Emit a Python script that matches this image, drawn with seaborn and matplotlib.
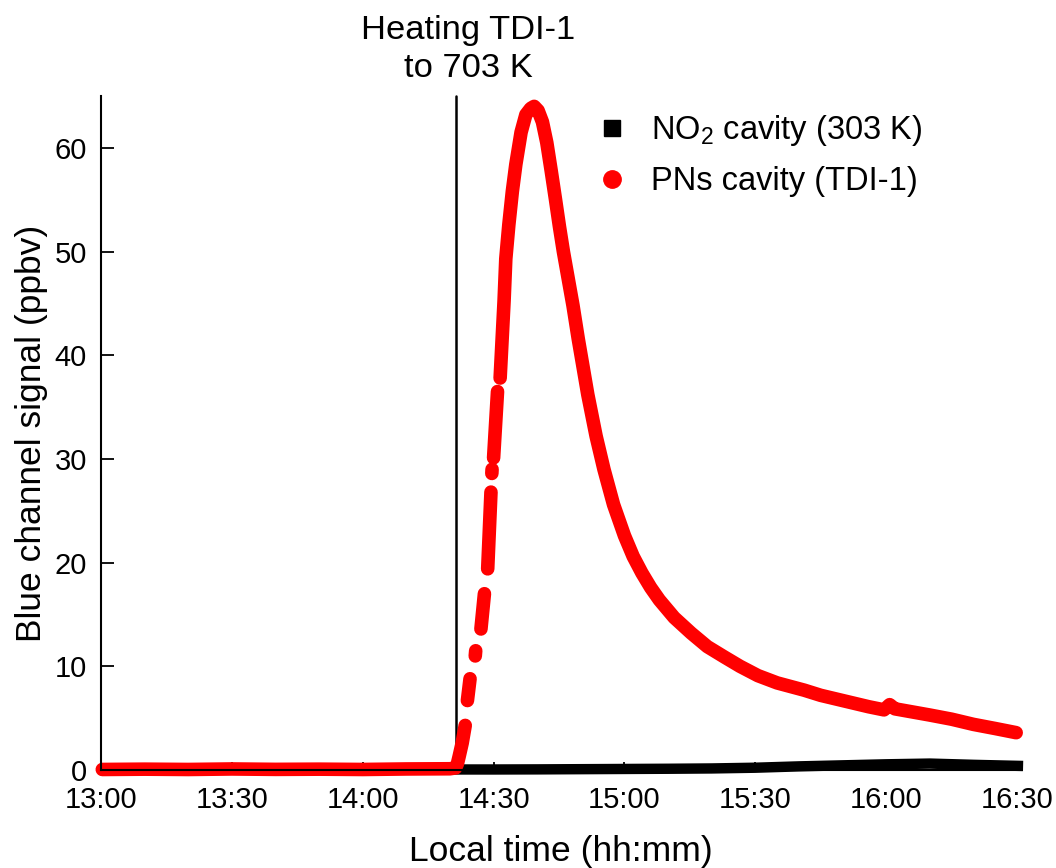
import numpy as np
import pandas as pd
import matplotlib
matplotlib.use("Agg")
import matplotlib.pyplot as plt
import seaborn as sns
from matplotlib.lines import Line2D

# ---------------- data (minutes after 13:00) ----------------
pns_minutes = [0.3, 10, 20, 30, 40, 50, 60, 70, 80, 81.3,
               81.7, 82.1, 82.8, 83.5,
               84.0, 84.6,
               85.8, 85.9,
               87.1, 87.9,
               88.65, 89.4,
               89.6, 89.65,
               90.0, 90.9,
               91.5, 92.4, 92.8, 93.5, 94.3, 95.1, 96.3, 97.4, 98.5, 99.3,
               100.2, 101.2, 102.2, 103.2, 104.2, 105.1, 106.0, 107.1, 108.2,
               109.4, 111.6, 113.5, 115.3, 117.5, 120.0, 122.0,
               124.0, 126.0, 128.0, 131.4, 135.3, 139.0, 142.9, 146.5, 150.6,
               155.0, 161.2, 165.0, 168.0, 172.0, 176.0, 179.5, 180.8, 182.0,
               186.0, 190.0, 195.0, 200.0, 205.0, 209.8]
pns_ppbv = [0.05, 0.08, 0.05, 0.1, 0.06, 0.08, 0.05, 0.1, 0.12, 0.2,
            0.6, 1.3, 2.6, 4.3,
            6.7, 8.8,
            11.0, 11.5,
            13.6, 17.0,
            19.4, 26.8,
            28.6, 29.0,
            30.1, 36.5,
            37.8, 45.2, 49.3, 52.6, 55.8, 58.4, 61.5, 63.2, 63.8, 64.0,
            63.6, 62.5, 60.5, 57.8, 55.0, 52.4, 50.0, 47.4, 44.8,
            41.6, 36.2, 32.2, 29.0, 25.6, 22.6, 20.6,
            19.0, 17.6, 16.4, 14.7, 13.2, 11.9, 10.9, 10.0, 9.1,
            8.4, 7.7, 7.2, 6.9, 6.5, 6.1, 5.8, 6.3, 5.9,
            5.6, 5.3, 4.9, 4.4, 4.0, 3.6]
pns_segment = [0] * 14 + [1, 1, 2, 2, 3, 3, 4, 4, 5, 5, 6, 6] + [7] * 50

no2_minutes = [81.5, 90, 100, 110, 120, 130, 140, 150, 160, 170, 180, 190, 200, 210.2]
no2_ppbv = [0.05, 0.05, 0.06, 0.08, 0.1, 0.12, 0.15, 0.22, 0.35, 0.45, 0.55, 0.62, 0.5, 0.4]

tick_minutes = [0, 30, 60, 90, 120, 150, 180, 210]
tick_labels = ["13:00", "13:30", "14:00", "14:30", "15:00", "15:30", "16:00", "16:30"]
y_ticks = [0, 10, 20, 30, 40, 50, 60]
heating_start_minute = 81.4

series_labels = ["NO$_\\mathregular{2}$ cavity (303 K)", "PNs cavity (TDI-1)"]

# ---------------- style ----------------
sns.set_theme(style="white")
plt.rcParams["font.family"] = ["Liberation Sans", "DejaVu Sans"]
plt.rcParams["mathtext.fontset"] = "custom"
plt.rcParams["mathtext.rm"] = "Liberation Sans"
plt.rcParams["mathtext.it"] = "Liberation Sans:italic"
plt.rcParams["text.color"] = "black"
plt.rcParams["axes.labelcolor"] = "black"

fig = plt.figure(figsize=(10.56, 8.68), dpi=100)
ax = fig.add_axes([101 / 1056, 98 / 868, 920.4 / 1056, 674 / 868])

df_red = pd.DataFrame({"minute": pns_minutes, "ppbv": pns_ppbv, "segment": pns_segment})
df_blk = pd.DataFrame({"minute": no2_minutes, "ppbv": no2_ppbv})

ax.axvline(heating_start_minute, color="black", lw=1.8, zorder=1)

sns.lineplot(data=df_blk, x="minute", y="ppbv", color="black", lw=7.5,
             ax=ax, legend=False, solid_capstyle="projecting")
sns.lineplot(data=df_red, x="minute", y="ppbv", units="segment", estimator=None,
             color="#ff0000", lw=9.8, ax=ax, legend=False,
             solid_capstyle="round", solid_joinstyle="round")
for ln in ax.lines:
    ln.set_clip_on(False)

ax.set_xlim(0, 211)
ax.set_ylim(0, 65)
ax.set_xticks(tick_minutes)
ax.set_xticklabels(tick_labels)
ax.set_yticks(y_ticks)

for side in ["top", "right"]:
    ax.spines[side].set_visible(False)
for side in ["left", "bottom"]:
    ax.spines[side].set_linewidth(1.5)
    ax.spines[side].set_color("black")

ax.tick_params(axis="x", direction="in", length=6, width=1.3, labelsize=21, pad=11.5,
               colors="black")
ax.tick_params(axis="y", direction="in", length=9.5, width=1.3, labelsize=21, pad=10,
               colors="black")
ax.tick_params(left=True, bottom=True)

ax.set_xlabel("Local time (hh:mm)", fontsize=25.5, labelpad=15, color="black")
ax.set_ylabel("Blue channel signal (ppbv)", fontsize=25.5, labelpad=5, color="black")

fig.text(468 / 1056, 1 - 49.5 / 868, "Heating TDI-1\nto 703 K", ha="center", va="center",
         fontsize=24.8, linespacing=1.3, multialignment="center", color="black")

handles = [Line2D([], [], marker="s", color="black", ls="none", markersize=11),
           Line2D([], [], marker="o", color="#ff0000", ls="none", markersize=12.5)]
leg = ax.legend(handles, series_labels, loc="upper left",
                bbox_to_anchor=(592 / 1056, 1 - 113 / 868),
                bbox_transform=fig.transFigure, frameon=False, fontsize=23.5,
                handlelength=1.2, handletextpad=0.62, labelspacing=0.56,
                borderpad=0, borderaxespad=0)
for t in leg.get_texts():
    t.set_color("black")

fig.savefig("out.png", dpi=100)
